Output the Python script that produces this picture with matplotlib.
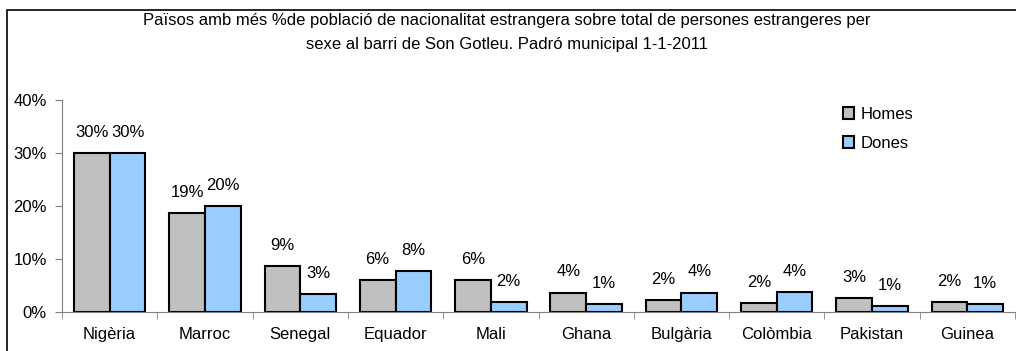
import numpy as np
import matplotlib.pyplot as plt
from matplotlib.patches import Rectangle

plt.rcParams['font.family'] = ['Liberation Sans', 'DejaVu Sans']

paisos = ['Nigèria', 'Marroc', 'Senegal', 'Equador', 'Mali',
          'Ghana', 'Bulgària', 'Colòmbia', 'Pakistan', 'Guinea']
homes = [30.0, 18.6, 8.6, 6.0, 6.0, 3.6, 2.2, 1.6, 2.6, 1.8]
dones = [30.0, 20.0, 3.3, 7.6, 1.8, 1.4, 3.6, 3.7, 1.0, 1.4]
titol = ['Països amb més %de població de nacionalitat estrangera sobre total de persones estrangeres per',
         'sexe al barri de Son Gotleu. Padró municipal 1-1-2011']

W, H = 1016, 351
fs = 12
fig = plt.figure(figsize=(W / 100, H / 100), dpi=100)
ax = fig.add_axes([62 / W, 1 - 311.7 / H, (1015 - 62) / W, (311.7 - 100) / H])

# outer chart frame (right and bottom edges fall outside the image)
fig.patches.append(Rectangle((7 / W, -0.2), 2, 1 - 10 / H + 0.2,
                             transform=fig.transFigure, fill=False,
                             edgecolor='black', linewidth=1.2))

x = np.arange(len(paisos))
w = 0.375
b1 = ax.bar(x - w / 2, homes, w, color='#C0C0C0', edgecolor='black',
            linewidth=1.5, label='Homes')
b2 = ax.bar(x + w / 2, dones, w, color='#99CCFF', edgecolor='black',
            linewidth=1.5, label='Dones')

for bars, vals in ((b1, homes), (b2, dones)):
    for r, v in zip(bars, vals):
        ax.annotate(f'{int(v + 0.5)}%', (r.get_x() + r.get_width() / 2, v),
                    xytext=(0, 15), textcoords='offset points',
                    ha='center', va='center', fontsize=fs)

ax.set_xlim(-0.5, len(paisos) - 0.5)
ax.set_ylim(0, 40)
ax.set_yticks([0, 10, 20, 30, 40])
ax.set_yticklabels([f'{t}%' for t in [0, 10, 20, 30, 40]], fontsize=fs)
ax.set_xticks(x)
ax.set_xticklabels(paisos, fontsize=fs)
ax.set_xticks(np.arange(len(paisos) + 1) - 0.5, minor=True)
ax.tick_params(axis='x', which='major', length=0, pad=11)
ax.tick_params(axis='x', which='minor', length=5, color='#808080', direction='out')
ax.tick_params(axis='y', length=5, color='#808080', pad=6)

for s in ('top', 'right'):
    ax.spines[s].set_visible(False)
for s in ('left', 'bottom'):
    ax.spines[s].set_color('#808080')
ax.patch.set_visible(False)

ax.legend(loc='upper left', bbox_to_anchor=(836 / W, 1 - 100 / H),
          bbox_transform=fig.transFigure, frameon=False, fontsize=fs,
          handlelength=0.7, handleheight=0.7, handletextpad=0.35,
          labelspacing=0.85, borderaxespad=0)

fig.text(507 / W, 1 - 21 / H, titol[0], ha='center', va='center', fontsize=fs)
fig.text(507 / W, 1 - 45 / H, titol[1], ha='center', va='center', fontsize=fs)

fig.savefig('out.png', dpi=100)
